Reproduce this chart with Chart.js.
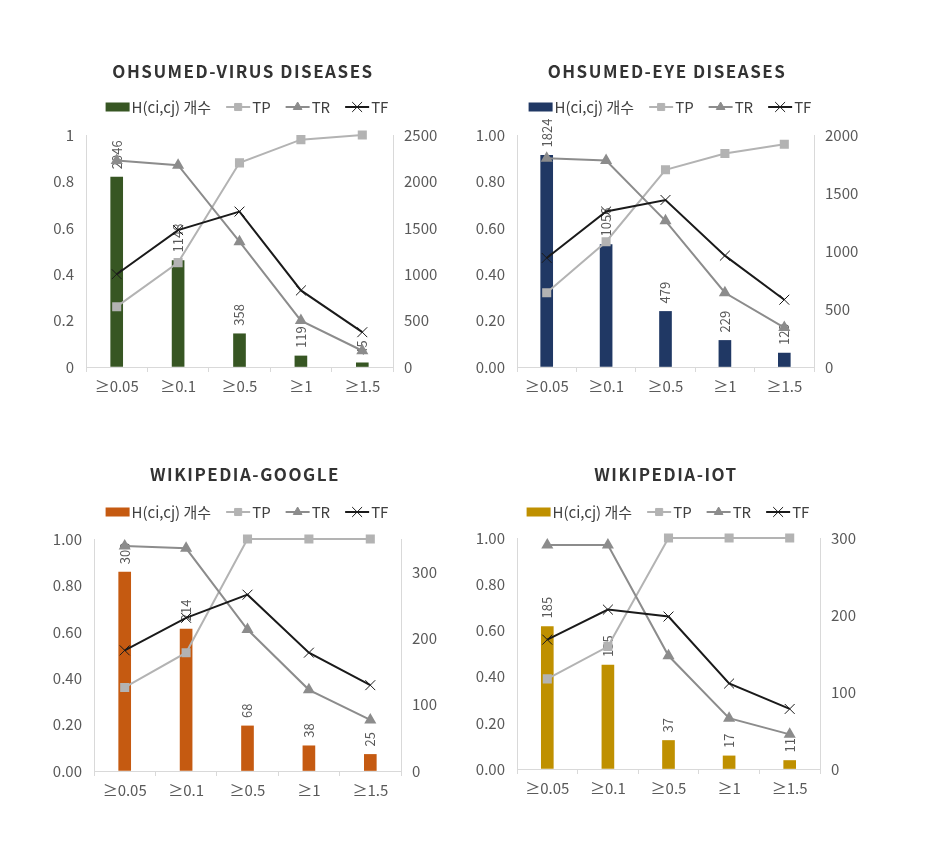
<!DOCTYPE html>
<html>
<head>
<meta charset="utf-8">
<script src="https://cdn.jsdelivr.net/npm/chart.js@4/dist/chart.umd.min.js"></script>
<style>
  body { margin: 0; background: #fff; width: 926px; height: 851px; position: relative; overflow: hidden; }
  canvas { position: absolute; }
</style>
</head>
<body>
<canvas id="c1" width="463" height="425" style="left:0;top:0"></canvas>
<canvas id="c2" width="463" height="425" style="left:463px;top:0"></canvas>
<canvas id="c3" width="463" height="426" style="left:0;top:425px"></canvas>
<canvas id="c4" width="463" height="426" style="left:463px;top:425px"></canvas>
<script>
const categories = ['≥0.05', '≥0.1', '≥0.5', '≥1', '≥1.5'];
const seriesNames = ['H(ci,cj) 개수', 'TP', 'TR', 'TF'];

// OHSUMED-VIRUS DISEASES
const virusCounts = [2046, 1148, 358, 119, 45];
const virusTP = [0.26, 0.45, 0.88, 0.98, 1.00];
const virusTR = [0.89, 0.87, 0.54, 0.20, 0.07];
const virusTF = [0.40, 0.59, 0.67, 0.33, 0.15];

// OHSUMED-EYE DISEASES
const eyeCounts = [1824, 1056, 479, 229, 120];
const eyeTP = [0.32, 0.54, 0.85, 0.92, 0.96];
const eyeTR = [0.90, 0.89, 0.63, 0.32, 0.17];
const eyeTF = [0.47, 0.67, 0.72, 0.48, 0.29];

// WIKIPEDIA-GOOGLE
const googleCounts = [300, 214, 68, 38, 25];
const googleTP = [0.36, 0.51, 1.00, 1.00, 1.00];
const googleTR = [0.97, 0.96, 0.61, 0.35, 0.22];
const googleTF = [0.52, 0.66, 0.76, 0.51, 0.37];

// WIKIPEDIA-IOT
const iotCounts = [185, 135, 37, 17, 11];
const iotTP = [0.39, 0.53, 1.00, 1.00, 1.00];
const iotTR = [0.97, 0.97, 0.49, 0.22, 0.15];
const iotTF = [0.56, 0.69, 0.66, 0.37, 0.26];

const FONT = "'Noto Sans CJK KR', 'Noto Sans', sans-serif";
const TEXT = '#404040';
const TICK = '#595959';
const AXIS = '#d9d9d9';
const TP_COLOR = '#b3b3b3';
const TR_COLOR = '#8c8c8c';
const TF_COLOR = '#1a1a1a';

Chart.defaults.font.family = FONT;
Chart.defaults.color = TEXT;

const panels = [
  { id: 'c1', title: 'OHSUMED-VIRUS DISEASES', color: '#375623',
    counts: virusCounts, tp: virusTP, tr: virusTR, tf: virusTF,
    rMax: 2500, rStep: 500, fixed: false,
    area: { left: 86, right: 393, top: 135, bottom: 367 },
    titlePos: [243, 72], legendPos: [247, 107] },
  { id: 'c2', title: 'OHSUMED-EYE DISEASES', color: '#203864',
    counts: eyeCounts, tp: eyeTP, tr: eyeTR, tf: eyeTF,
    rMax: 2000, rStep: 500, fixed: true,
    area: { left: 54, right: 351, top: 135, bottom: 367 },
    titlePos: [204, 72], legendPos: [207, 107] },
  { id: 'c3', title: 'WIKIPEDIA-GOOGLE', color: '#c55a11',
    counts: googleCounts, tp: googleTP, tr: googleTR, tf: googleTF,
    rMax: 350, rStep: 100, fixed: true,
    area: { left: 94, right: 401, top: 114, bottom: 346 },
    titlePos: [245, 50], legendPos: [247, 87] },
  { id: 'c4', title: 'WIKIPEDIA-IOT', color: '#bf9000',
    counts: iotCounts, tp: iotTP, tr: iotTR, tf: iotTF,
    rMax: 300, rStep: 100, fixed: true,
    area: { left: 54, right: 357, top: 113, bottom: 344 },
    titlePos: [203, 50], legendPos: [205, 87] }
];

// rotated value labels above the bars, drawn right after the bars so lines pass over them
const barLabels = {
  id: 'barLabels',
  afterDatasetDraw(chart, args) {
    if (args.index !== 0) return;
    const ctx = chart.ctx;
    const counts = chart.data.datasets[0].data;
    ctx.save();
    ctx.font = '13px ' + FONT;
    ctx.fillStyle = TICK;
    ctx.textAlign = 'left';
    ctx.textBaseline = 'middle';
    args.meta.data.forEach((bar, i) => {
      ctx.save();
      ctx.translate(bar.x, bar.y - 8);
      ctx.rotate(-Math.PI / 2);
      ctx.fillText(String(counts[i]), 0, 0);
      ctx.restore();
    });
    ctx.restore();
  }
};

// title and legend
const header = {
  id: 'header',
  afterDraw(chart) {
    const p = chart.options.plugins.header;
    const ctx = chart.ctx;
    ctx.save();
    ctx.font = 'bold 17px ' + FONT;
    ctx.letterSpacing = '1.5px';
    ctx.fillStyle = '#333333';
    ctx.textAlign = 'center';
    ctx.textBaseline = 'middle';
    ctx.fillText(p.title, p.titlePos[0], p.titlePos[1]);
    ctx.letterSpacing = '0px';

    ctx.font = '15px ' + FONT;
    const sw = 24, gap = 2, sep = 15;
    const widths = seriesNames.map(n => ctx.measureText(n).width);
    const total = widths.reduce((a, b) => a + b, 0) + seriesNames.length * (sw + gap) + (seriesNames.length - 1) * sep;
    let x = p.legendPos[0] - total / 2;
    const y = p.legendPos[1];
    const ds = chart.data.datasets;
    seriesNames.forEach((name, i) => {
      if (i === 0) {
        ctx.fillStyle = ds[0].backgroundColor;
        ctx.fillRect(x, y - 4.5, sw, 9);
      } else {
        const d = ds[i];
        ctx.strokeStyle = d.borderColor;
        ctx.lineWidth = 2;
        ctx.beginPath();
        ctx.moveTo(x, y);
        ctx.lineTo(x + sw, y);
        ctx.stroke();
        ctx.fillStyle = d.pointBackgroundColor;
        ctx.strokeStyle = d.pointBorderColor;
        ctx.lineWidth = 1;
        Chart.helpers.drawPoint(ctx, { pointStyle: d.pointStyle, radius: d.pointRadius, borderWidth: 1 }, x + sw / 2, y);
      }
      x += sw + gap;
      ctx.fillStyle = TEXT;
      ctx.textAlign = 'left';
      ctx.fillText(name, x, y);
      x += widths[i] + sep;
    });
    ctx.restore();
  }
};

panels.forEach(p => {
  const canvas = document.getElementById(p.id);
  const W = canvas.width, H = canvas.height, a = p.area;
  new Chart(canvas, {
    data: {
      labels: categories,
      datasets: [
        { type: 'bar', label: seriesNames[0], data: p.counts, yAxisID: 'y1',
          backgroundColor: p.color, barThickness: 12, order: 10 },
        { type: 'line', label: seriesNames[1], data: p.tp, yAxisID: 'y', clip: false,
          borderColor: TP_COLOR, borderWidth: 2, pointStyle: 'rect', pointRadius: 5,
          pointBackgroundColor: TP_COLOR, pointBorderColor: TP_COLOR, order: 3 },
        { type: 'line', label: seriesNames[2], data: p.tr, yAxisID: 'y', clip: false,
          borderColor: TR_COLOR, borderWidth: 2, pointStyle: 'triangle', pointRadius: 5,
          pointBackgroundColor: TR_COLOR, pointBorderColor: TR_COLOR, order: 2 },
        { type: 'line', label: seriesNames[3], data: p.tf, yAxisID: 'y', clip: false,
          borderColor: TF_COLOR, borderWidth: 2, pointStyle: 'crossRot', pointRadius: 7,
          pointBackgroundColor: TF_COLOR, pointBorderColor: TF_COLOR, pointBorderWidth: 1, order: 1 }
      ]
    },
    options: {
      responsive: false,
      animation: false,
      layout: { padding: { top: a.top, left: 0, right: 0, bottom: 0 } },
      plugins: {
        legend: { display: false },
        tooltip: { enabled: false },
        header: { title: p.title, titlePos: p.titlePos, legendPos: p.legendPos }
      },
      scales: {
        x: {
          afterFit: s => { s.height = H - a.bottom; },
          grid: { drawOnChartArea: false, drawTicks: true, tickLength: 5, color: AXIS, offset: true },
          border: { color: AXIS },
          ticks: { font: { size: 15 }, color: TICK, padding: 5, maxRotation: 0 }
        },
        y: {
          position: 'left', min: 0, max: 1,
          afterFit: s => { s.width = a.left; },
          grid: { drawOnChartArea: false, drawTicks: false },
          border: { color: AXIS },
          ticks: { stepSize: 0.2, font: { size: 15 }, color: TICK, padding: 12,
            callback: v => p.fixed ? v.toFixed(2) : String(Math.round(v * 10) / 10) }
        },
        y1: {
          position: 'right', min: 0, max: p.rMax,
          afterFit: s => { s.width = W - a.right; },
          grid: { drawOnChartArea: false, drawTicks: false },
          border: { color: AXIS },
          ticks: { stepSize: p.rStep, includeBounds: false, font: { size: 15 }, color: TICK, padding: 11,
            callback: v => String(v) }
        }
      }
    },
    plugins: [barLabels, header]
  });
});
</script>
</body>
</html>
